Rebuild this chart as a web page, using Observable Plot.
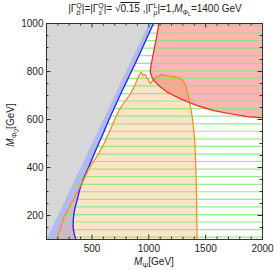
<!DOCTYPE html>
<html><head><meta charset="utf-8">
<script src="https://cdn.jsdelivr.net/npm/d3@7"></script>
<script src="https://cdn.jsdelivr.net/npm/@observablehq/plot@0.6"></script>
<style>body{margin:0;background:#fff}</style>
</head><body><div id="chart"></div>
<script>
// axis ticks
const xTicks = [500, 1000, 1500, 2000];
const yTicks = [200, 400, 600, 800, 1000];
const xMinor = [100, 200, 300, 400, 600, 700, 800, 900, 1100, 1200, 1300, 1400, 1600, 1700, 1800, 1900];
const yMinor = [100, 150, 250, 300, 350, 450, 500, 550, 650, 700, 750, 850, 900, 950];

// excluded region M_PhiQ > M_Psi (gray)
const grayRegion = [[100, 100], [1000, 1000], [100, 1000]];
// blue contour (bottom to top)
const blueCurve = [[358,100],[345,120],[334,150],[335,180],[342,210],[352,235],[367,260],[383,290],[400,320],[432,360],[470,400],[532,471],[588,530],[650,600],[743,697],[893,846],[1041,1000]];
// orange contour (closed region)
const orangeCurve = [[188,100],[220,140],[252,193],[290,225],[330,262],[365,292],[393,318],[430,352],[470,393],[520,430],[560,458],[600,495],[650,545],[700,600],[736,637],[790,676],[839,707],[883,749],[912,783],[933,797],[951,783],[971,787],[986,770],[1000,762],[1015,749],[1030,760],[1050,770],[1074,779],[1097,783],[1118,790],[1132,783],[1162,783],[1191,779],[1220,779],[1250,776],[1279,770],[1302,762],[1323,742],[1343,707],[1360,665],[1373,637],[1385,600],[1395,554],[1404,512],[1410,450],[1415,380],[1419,300],[1422,200],[1425,100]];
// red contour (top to right edge)
const redCurve = [[1088,1000],[1074,957],[1050,901],[1028,846],[1014,810],[1014,795],[1030,774],[1044,762],[1103,735],[1162,714],[1220,700],[1279,686],[1352,672],[1426,658],[1572,637],[1718,624],[1865,612],[2000,607]];
// green hatch lines (M_PhiQ values)
const hatchY = [110,141,173,204,236,267,299,330,362,393,425,456,488,519,551,582,614,645,677,708,740,771,803,834,866,897,929,960,992];

const bluePoly = [[100,100], ...blueCurve, [100,1000]];
const redPoly = [...redCurve, [2000,1000]];
const px = d => d[0], py = d => d[1];
const W = 216, H = 216;

const plot = Plot.plot({
  width: 274, height: 270,
  marginTop: 23, marginLeft: 46, marginRight: 12, marginBottom: 31,
  x: {domain: [100, 2000]},
  y: {domain: [100, 1000]},
  style: {fontFamily: "Liberation Sans, Arial, sans-serif", fontSize: "10px", color: "#222", background: "#fff"},
  marks: [
    Plot.line(bluePoly, {x: px, y: py, fill: "#9e9eff", fillOpacity: 0.75, stroke: "none", clip: true}),
    Plot.line(orangeCurve, {x: px, y: py, fill: "#ffb878", fillOpacity: 0.4, stroke: "none", clip: true}),
    Plot.line(redPoly, {x: px, y: py, fill: "#ff5a5a", fillOpacity: 0.45, stroke: "none", clip: true}),
    Plot.ruleY(hatchY, {y: d => d, x1: d => d, x2: 2000, stroke: "#86e67a", strokeWidth: 1.2, strokeOpacity: 0.85}),
    Plot.line(grayRegion, {x: px, y: py, fill: "#d7d7d7", stroke: "none", clip: true}),
    Plot.line(blueCurve, {x: px, y: py, stroke: "#1f1fff", strokeWidth: 1.3, clip: true}),
    Plot.line(orangeCurve, {x: px, y: py, stroke: "#ff8a10", strokeWidth: 1.2, clip: true}),
    Plot.line(redCurve, {x: px, y: py, stroke: "#ff1f1f", strokeWidth: 1.2, clip: true}),
    Plot.frame({stroke: "#333", strokeWidth: 1}),
    Plot.tickX(xTicks, {x: d => d, insetTop: H - 4.5, stroke: "#333"}),
    Plot.tickX(xMinor, {x: d => d, insetTop: H - 2.5, stroke: "#333"}),
    Plot.tickX(xTicks, {x: d => d, insetBottom: H - 4.5, stroke: "#333"}),
    Plot.tickX(xMinor, {x: d => d, insetBottom: H - 2.5, stroke: "#333"}),
    Plot.tickY(yTicks, {y: d => d, insetRight: W - 4.5, stroke: "#333"}),
    Plot.tickY(yMinor, {y: d => d, insetRight: W - 2.5, stroke: "#333"}),
    Plot.tickY(yTicks, {y: d => d, insetLeft: W - 4.5, stroke: "#333"}),
    Plot.tickY(yMinor, {y: d => d, insetLeft: W - 2.5, stroke: "#333"}),
    Plot.axisX({ticks: xTicks, tickFormat: d => String(d), tickSize: 0, tickPadding: 5, label: null}),
    Plot.axisY({ticks: yTicks, tickFormat: d => String(d), tickSize: 0, tickPadding: 3, label: null})
  ]
});
document.getElementById("chart").appendChild(plot);

const svg = d3.select(plot);
const FONT = "Liberation Sans, Arial, sans-serif";
function rich(sel, parts) {
  for (const p of parts) {
    const t = sel.append("tspan").text(p.t);
    if (p.dx) t.attr("dx", p.dx);
    if (p.dy) t.attr("dy", p.dy);
    t.attr("font-size", p.fs || 10);
    if (p.it) t.attr("font-style", "italic");
    if (p.ol) t.attr("text-decoration", "overline");
  }
}
// title
const title = svg.append("text").attr("x", 155).attr("y", 12).attr("text-anchor", "middle")
  .attr("font-family", FONT).attr("fill", "#222");
rich(title, [
  {t: "|Γ"}, {t: "Q", fs: 7, dy: -4}, {t: "b", fs: 7, dx: -5.2, dy: 6.5, it: true}, {t: "|=|Γ", dx: 1.3, dy: -2.5},
  {t: "Q", fs: 7, dy: -4}, {t: "s", fs: 7, dx: -5.2, dy: 6.5, it: true}, {t: "|= √", dx: 1.6, dy: -2.5},
  {t: "0.15", ol: true}, {t: " ,|Γ"}, {t: "L", fs: 7, dy: -4}, {t: "μ", fs: 7, dx: -3.9, dy: 6.5, it: true},
  {t: "|=1,", dy: -2.5}, {t: "M", it: true}, {t: "Φ", fs: 7, dy: 2.5}, {t: "L", fs: 5, dy: 1.5},
  {t: "=1400 GeV", dy: -4}
]);
// x label
const xl = svg.append("text").attr("x", 154).attr("y", 265).attr("text-anchor", "middle")
  .attr("font-family", FONT).attr("fill", "#222");
rich(xl, [{t: "M", it: true}, {t: "Ψ", fs: 7, dy: 2.5}, {t: "[GeV]", dy: -2.5}]);
// y label
const yl = svg.append("text").attr("transform", "translate(14,125) rotate(-90)").attr("text-anchor", "middle")
  .attr("font-family", FONT).attr("fill", "#222");
rich(yl, [{t: "M", it: true}, {t: "Φ", fs: 7, dy: 2.5}, {t: "Q", fs: 5, dy: 1.5}, {t: "[GeV]", dy: -4}]);
</script>
</body></html>
